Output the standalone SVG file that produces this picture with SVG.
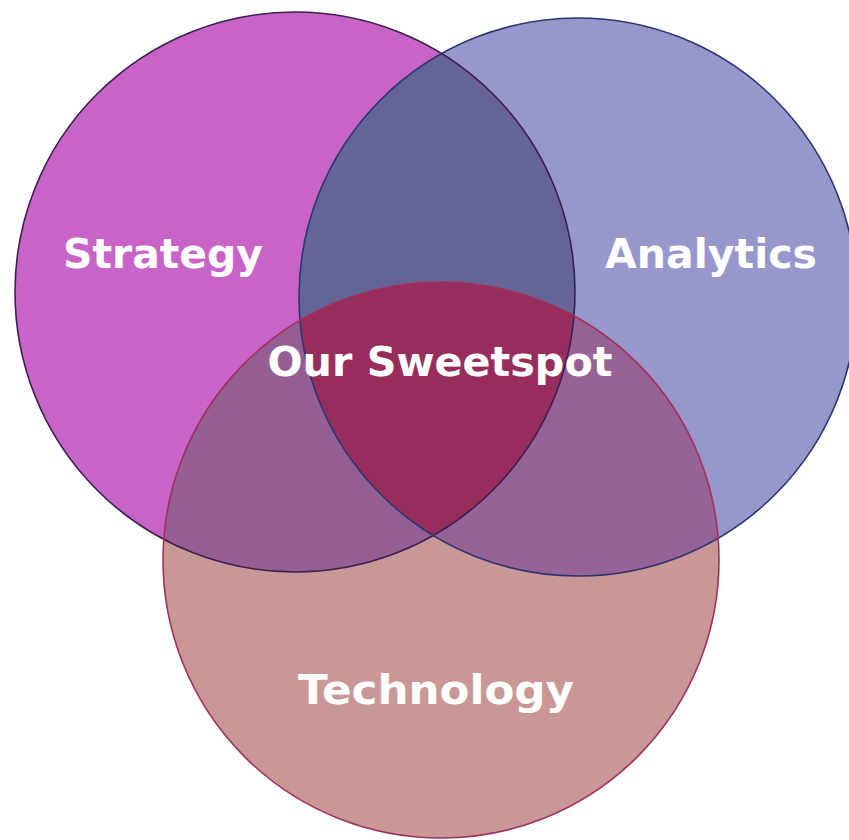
<svg xmlns="http://www.w3.org/2000/svg" width="849" height="840" viewBox="0 0 849 840">
  <style>
    .label { font-family: "DejaVu Sans", "Liberation Sans", sans-serif; font-weight: bold; font-size: 41px; fill: #ffffff; text-anchor: middle; }
    .ring { fill: none; stroke-width: 1.6; }
  </style>
  <defs>
    <clipPath id="clipS"><circle cx="295" cy="292" r="280"/></clipPath>
    <clipPath id="clipA"><circle cx="578" cy="297" r="279"/></clipPath>
  </defs>
  <rect width="849" height="840" fill="#ffffff"/>

  <!-- base discs -->
  <g id="strategy">
    <circle cx="295" cy="292" r="280" fill="#c863c8"/>
  </g>
  <g id="analytics">
    <circle cx="578" cy="297" r="279" fill="#9897cb"/>
  </g>
  <g id="technology">
    <circle cx="441" cy="560" r="278" fill="#c99795"/>
  </g>

  <!-- pairwise overlaps -->
  <g id="overlaps">
    <circle cx="578" cy="297" r="279" fill="#646496" clip-path="url(#clipS)"/>
    <circle cx="441" cy="560" r="278" fill="#965f94" clip-path="url(#clipS)"/>
    <circle cx="441" cy="560" r="278" fill="#976296" clip-path="url(#clipA)"/>
    <g id="sweetspot" clip-path="url(#clipS)">
      <circle cx="441" cy="560" r="278" fill="#962d5d" clip-path="url(#clipA)"/>
    </g>
  </g>

  <!-- outlines -->
  <g id="outlines">
    <circle class="ring" cx="295" cy="292" r="280" stroke="#3c2050"/>
    <circle class="ring" cx="578" cy="297" r="279" stroke="#2c3670"/>
    <circle class="ring" cx="441" cy="560" r="278" stroke="#a0305c"/>
  </g>

  <!-- labels -->
  <g id="labels">
    <text class="label" x="163" y="268" textLength="200" lengthAdjust="spacingAndGlyphs">Strategy</text>
    <text class="label" x="711" y="268" textLength="212" lengthAdjust="spacingAndGlyphs">Analytics</text>
    <text class="label" x="440" y="376" textLength="345" lengthAdjust="spacingAndGlyphs">Our Sweetspot</text>
    <text class="label" x="436" y="704" textLength="276" lengthAdjust="spacingAndGlyphs">Technology</text>
  </g>
</svg>
